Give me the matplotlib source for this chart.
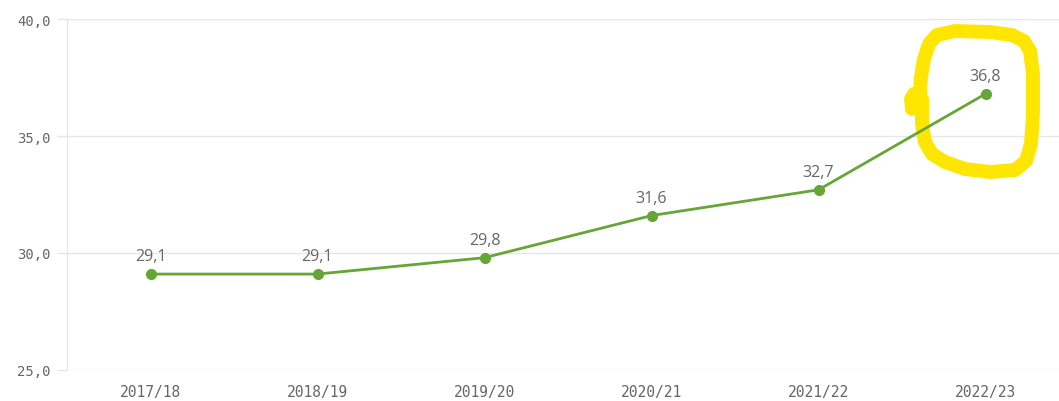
import matplotlib.pyplot as plt

years = ["2017/18", "2018/19", "2019/20", "2020/21", "2021/22", "2022/23"]
values = [29.1, 29.1, 29.8, 31.6, 32.7, 36.8]
y_ticks = [25, 30, 35, 40]

W, H = 1059, 402
fig = plt.figure(figsize=(W / 100, H / 100), dpi=100)

# axes box in pixels (axis runs a bit past the right edge of the screenshot)
left, right, top, bottom = 67, 1069, 20, 371
ax = fig.add_axes([left / W, 1 - bottom / H, (right - left) / W, (bottom - top) / H])

x = list(range(len(years)))
ax.plot(x, values, color='#65a637', lw=2, marker='o', ms=7, zorder=3, clip_on=False)
for xi, v in zip(x, values):
    ax.annotate(f"{v:.1f}".replace('.', ','), (xi, v), xytext=(0, 7),
                textcoords='offset points', ha='center', va='bottom',
                fontsize=11.5, color='#666666', family='Open Sans', zorder=4)

ax.set_xlim(-0.5, len(years) - 0.5)
ax.set_ylim(25, 40)
ax.set_xticks(x)
ax.set_xticklabels(years, family='DejaVu Sans Mono', fontsize=10.5, color='#666666')
ax.set_yticks(y_ticks)
ax.set_yticklabels([f"{t:.1f}".replace('.', ',') for t in y_ticks],
                   family='DejaVu Sans Mono', fontsize=10, color='#666666')
ax.tick_params(axis='x', length=0, pad=10)
ax.tick_params(axis='y', length=7, width=1, color='#e6e6e6', pad=5)
ax.grid(axis='y', color='#e6e6e6', lw=1)
ax.set_axisbelow(True)
for s in ['top', 'right', 'bottom']:
    ax.spines[s].set_visible(False)
ax.spines['left'].set_color('#e6e6e6')

# yellow hand-drawn highlight around the last point (pixel coords)
ring = [(912, 110), (911, 100), (914, 95), (920, 93), (921, 78), (924, 60), (929, 45),
        (937, 36), (955, 32), (990, 33), (1012, 36), (1024, 42), (1030, 52),
        (1033, 75), (1033, 115), (1031, 145), (1026, 162), (1015, 171), (990, 173),
        (965, 170), (945, 163), (932, 155), (925, 143), (922, 125), (922, 100)]
rx = [p[0] / W for p in ring]
ry = [1 - p[1] / H for p in ring]
ax.plot(rx, ry, transform=fig.transFigure, color='#ffe600', lw=10,
        solid_joinstyle='round', solid_capstyle='round', clip_on=False, zorder=2)

fig.savefig('out.png', dpi=100)
